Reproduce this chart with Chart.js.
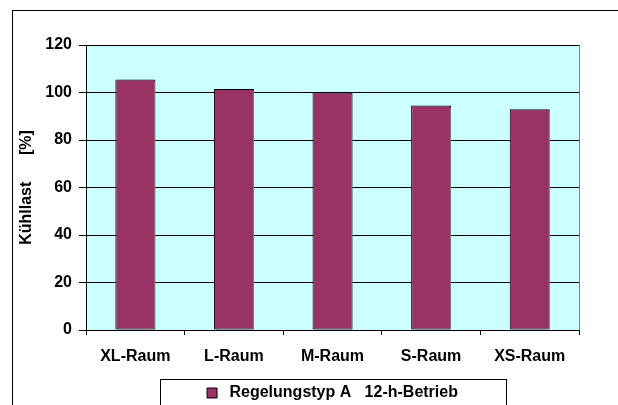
<!DOCTYPE html>
<html>
<head>
<meta charset="utf-8">
<script src="https://cdn.jsdelivr.net/npm/chart.js@4"></script>
<style>
  html, body { margin: 0; padding: 0; background: #ffffff; }
  #wrap { width: 618px; height: 405px; position: relative; }
</style>
</head>
<body>
<div id="wrap"><canvas id="chart" width="618" height="405"></canvas></div>
<script>
// Raumgrößen und Kühllast in Prozent
const categories = ['XL-Raum', 'L-Raum', 'M-Raum', 'S-Raum', 'XS-Raum'];
const kuehllast = [105.5, 101.5, 100, 94.5, 93];
const seriesName = 'Regelungstyp A   12-h-Betrieb';
const yTicks = [0, 20, 40, 60, 80, 100, 120];

const FONT = 'Arial, "Liberation Sans", sans-serif';

// Hintergrund der Zeichenfläche, äußerer Rahmen und Legendenrahmen
const framePlugin = {
  id: 'frames',
  beforeDraw(chart) {
    const { ctx, chartArea: a } = chart;
    ctx.save();
    ctx.fillStyle = '#ffffff';
    ctx.fillRect(0, 0, chart.width, chart.height);
    ctx.strokeStyle = '#000000';
    ctx.lineWidth = 1;
    ctx.strokeRect(12.5, 10.5, chart.width + 20, chart.height + 20);
    ctx.fillStyle = '#CCFFFF';
    ctx.fillRect(a.left, a.top, a.right - a.left, a.bottom - a.top);
    ctx.restore();
  },
  afterDraw(chart) {
    const { ctx, chartArea: a } = chart;
    ctx.save();
    ctx.strokeStyle = '#808080';
    ctx.lineWidth = 1;
    ctx.beginPath();
    ctx.moveTo(Math.round(a.right) + 0.5, a.top);
    ctx.lineTo(Math.round(a.right) + 0.5, a.bottom);
    ctx.stroke();
    const cx = (a.left + a.right) / 2;
    ctx.strokeStyle = '#000000';
    ctx.strokeRect(Math.round(cx - 173) + 0.5, 379.5, 346, 40);
    ctx.restore();
  }
};

// Grauer Schatten rechts neben den Säulen
const shadowPlugin = {
  id: 'barShadow',
  beforeDatasetDraw(chart) {
    const ctx = chart.ctx;
    ctx.save();
    ctx.shadowColor = '#808080';
    ctx.shadowOffsetX = 2;
    ctx.shadowOffsetY = 1;
    ctx.shadowBlur = 0;
  },
  afterDatasetDraw(chart) {
    chart.ctx.restore();
  }
};

new Chart(document.getElementById('chart'), {
  type: 'bar',
  data: {
    labels: categories,
    datasets: [{
      label: seriesName,
      data: kuehllast,
      backgroundColor: '#993366',
      borderColor: '#000000',
      borderWidth: 1,
      borderSkipped: false,
      barPercentage: 0.405,
      categoryPercentage: 1.0
    }]
  },
  options: {
    responsive: false,
    animation: false,
    devicePixelRatio: 1,
    layout: { padding: { left: 17, right: 39, top: 45, bottom: 0 } },
    plugins: {
      legend: {
        position: 'bottom',
        fullSize: false,
        maxHeight: 26,
        labels: {
          color: '#000000',
          font: { family: FONT, size: 16, weight: 'bold' },
          boxWidth: 10,
          boxHeight: 10,
          padding: 6,
          generateLabels(chart) {
            const ds = chart.data.datasets[0];
            return [{
              text: ' ' + ds.label,
              fillStyle: ds.backgroundColor,
              strokeStyle: '#000000',
              lineWidth: 1,
              datasetIndex: 0
            }];
          }
        }
      },
      tooltip: { enabled: false }
    },
    scales: {
      x: {
        grid: {
          display: true,
          drawOnChartArea: false,
          offset: true,
          color: '#000000',
          tickLength: 5
        },
        border: { display: true, color: '#000000', width: 1 },
        ticks: {
          color: '#000000',
          font: { family: FONT, size: 16, weight: 'bold' },
          padding: 12,
          maxRotation: 0
        },
        afterFit(scale) { scale.height = 49; }
      },
      y: {
        min: 0,
        max: 120,
        afterBuildTicks(scale) { scale.ticks = yTicks.map(v => ({ value: v })); },
        grid: {
          color: '#000000',
          lineWidth: 1,
          tickLength: 7
        },
        border: { display: true, color: '#000000', width: 1 },
        ticks: {
          color: '#000000',
          font: { family: FONT, size: 16, weight: 'bold' },
          padding: 7
        },
        title: {
          display: true,
          text: 'Kühllast      [%]',
          color: '#000000',
          font: { family: FONT, size: 16, weight: 'bold' },
          padding: { top: 0, bottom: 0 }
        },
        afterFit(scale) { scale.width = 69; }
      }
    }
  },
  plugins: [framePlugin, shadowPlugin]
});
</script>
</body>
</html>
